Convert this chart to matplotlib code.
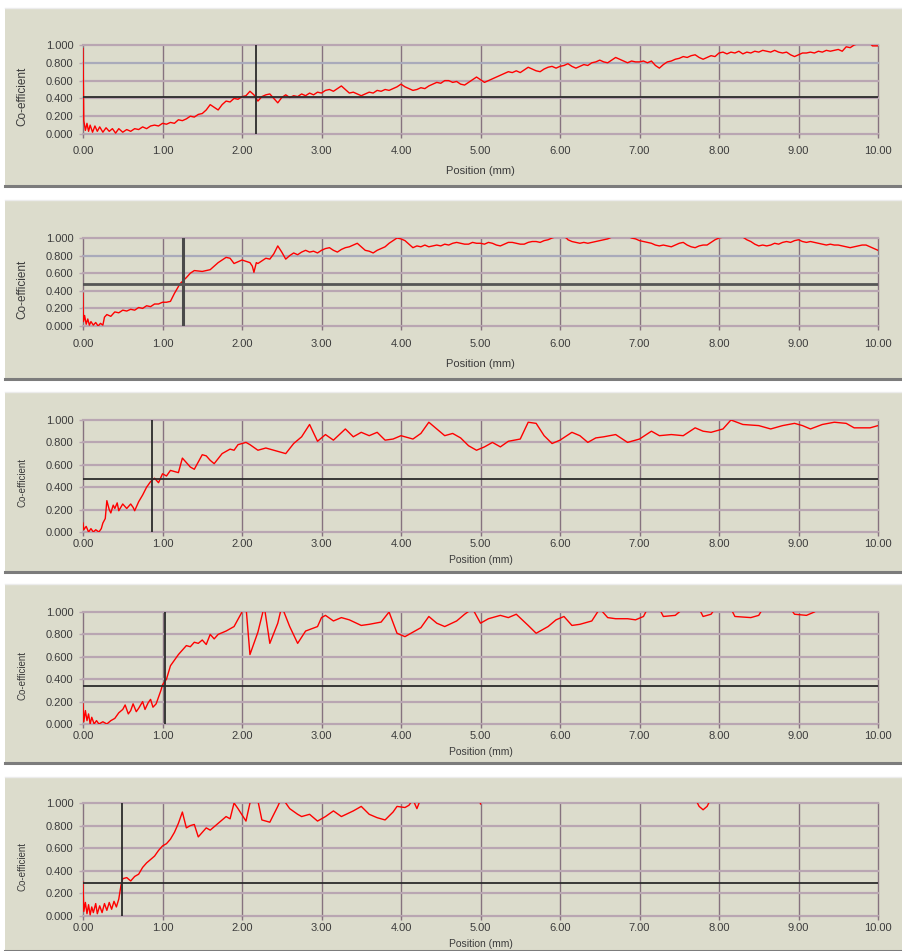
import matplotlib.pyplot as plt
from matplotlib.patches import Rectangle
from matplotlib.lines import Line2D

plt.rcParams['font.family'] = ['Liberation Sans', 'DejaVu Sans']

# friction traces as (position mm, coefficient) points, one list per test run
trace_1 = [
    (0.0, 0.96), (0.01, 0.15), (0.03, 0.04), (0.05, 0.12), (0.07, 0.03), (0.09, 0.10), (0.12, 0.02),
    (0.15, 0.09), (0.18, 0.03), (0.21, 0.08), (0.25, 0.02), (0.29, 0.07), (0.33, 0.03), (0.37, 0.06),
    (0.41, 0.01), (0.45, 0.06), (0.5, 0.02), (0.55, 0.05), (0.6, 0.03), (0.65, 0.06), (0.7, 0.05),
    (0.75, 0.08), (0.8, 0.06), (0.85, 0.09), (0.9, 0.10), (0.95, 0.09), (1.0, 0.12), (1.05, 0.11),
    (1.1, 0.13), (1.15, 0.12), (1.2, 0.16), (1.25, 0.15), (1.3, 0.17), (1.35, 0.20), (1.4, 0.19),
    (1.45, 0.22), (1.5, 0.23), (1.55, 0.27), (1.6, 0.33), (1.65, 0.30), (1.7, 0.27), (1.75, 0.33),
    (1.8, 0.37), (1.85, 0.36), (1.9, 0.40), (1.95, 0.39), (2.0, 0.42), (2.05, 0.43), (2.1, 0.48),
    (2.15, 0.44), (2.2, 0.37), (2.25, 0.42), (2.3, 0.44), (2.35, 0.45), (2.4, 0.40), (2.45, 0.35),
    (2.5, 0.41), (2.55, 0.44), (2.6, 0.41), (2.65, 0.43), (2.7, 0.42), (2.75, 0.45), (2.8, 0.43),
    (2.85, 0.46), (2.9, 0.44), (2.95, 0.47), (3.0, 0.46), (3.05, 0.49), (3.1, 0.50), (3.15, 0.48),
    (3.2, 0.51), (3.25, 0.54), (3.3, 0.50), (3.35, 0.46), (3.4, 0.47), (3.45, 0.45), (3.5, 0.43),
    (3.55, 0.45), (3.6, 0.47), (3.65, 0.46), (3.7, 0.49), (3.75, 0.48), (3.8, 0.50), (3.85, 0.49),
    (3.9, 0.51), (3.95, 0.53), (4.0, 0.56), (4.05, 0.53), (4.1, 0.51), (4.15, 0.49), (4.2, 0.50),
    (4.25, 0.52), (4.3, 0.51), (4.35, 0.54), (4.4, 0.56), (4.45, 0.58), (4.5, 0.57), (4.55, 0.60),
    (4.6, 0.60), (4.65, 0.58), (4.7, 0.59), (4.75, 0.56), (4.8, 0.55), (4.85, 0.58), (4.9, 0.61),
    (4.95, 0.64), (5.0, 0.61), (5.05, 0.58), (5.1, 0.60), (5.15, 0.62), (5.2, 0.64), (5.25, 0.66),
    (5.3, 0.68), (5.35, 0.70), (5.4, 0.69), (5.45, 0.71), (5.5, 0.69), (5.55, 0.72), (5.6, 0.75),
    (5.65, 0.73), (5.7, 0.71), (5.75, 0.70), (5.8, 0.73), (5.85, 0.75), (5.9, 0.76), (5.95, 0.74),
    (6.0, 0.76), (6.05, 0.77), (6.1, 0.79), (6.15, 0.76), (6.2, 0.74), (6.25, 0.76), (6.3, 0.78),
    (6.35, 0.77), (6.4, 0.80), (6.45, 0.81), (6.5, 0.83), (6.55, 0.81), (6.6, 0.80), (6.65, 0.83),
    (6.7, 0.86), (6.75, 0.84), (6.8, 0.82), (6.85, 0.80), (6.9, 0.82), (6.95, 0.81), (7.0, 0.81),
    (7.05, 0.82), (7.1, 0.80), (7.15, 0.82), (7.2, 0.77), (7.25, 0.74), (7.3, 0.78), (7.35, 0.81),
    (7.4, 0.82), (7.45, 0.84), (7.5, 0.85), (7.55, 0.87), (7.6, 0.86), (7.65, 0.88), (7.7, 0.89),
    (7.75, 0.86), (7.8, 0.84), (7.85, 0.86), (7.9, 0.88), (7.95, 0.87), (8.0, 0.91), (8.05, 0.92),
    (8.1, 0.90), (8.15, 0.92), (8.2, 0.91), (8.25, 0.93), (8.3, 0.90), (8.35, 0.92), (8.4, 0.91),
    (8.45, 0.93), (8.5, 0.92), (8.55, 0.94), (8.6, 0.93), (8.65, 0.92), (8.7, 0.94), (8.75, 0.92),
    (8.8, 0.91), (8.85, 0.92), (8.9, 0.89), (8.95, 0.87), (9.0, 0.89), (9.05, 0.91), (9.1, 0.91),
    (9.15, 0.92), (9.2, 0.91), (9.25, 0.93), (9.3, 0.92), (9.35, 0.94), (9.4, 0.93), (9.45, 0.94),
    (9.5, 0.95), (9.55, 0.93), (9.6, 0.98), (9.65, 0.97), (9.7, 1.0), (9.8, 1.03), (9.9, 1.02),
    (9.93, 0.99), (10.0, 0.99),
]

trace_2 = [
    (0.0, 0.37), (0.005, 0.05), (0.02, 0.12), (0.04, 0.02), (0.06, 0.08), (0.08, 0.01), (0.1, 0.05),
    (0.13, 0.01), (0.16, 0.04), (0.19, 0.0), (0.22, 0.03), (0.25, 0.01), (0.27, 0.10), (0.3, 0.13),
    (0.35, 0.11), (0.4, 0.16), (0.45, 0.15), (0.5, 0.18), (0.55, 0.17), (0.6, 0.19), (0.65, 0.18),
    (0.7, 0.21), (0.75, 0.20), (0.8, 0.23), (0.85, 0.22), (0.9, 0.25), (0.95, 0.25), (1.0, 0.27),
    (1.05, 0.27), (1.1, 0.28), (1.15, 0.37), (1.22, 0.48), (1.3, 0.55), (1.35, 0.60), (1.4, 0.63),
    (1.5, 0.62), (1.6, 0.64), (1.65, 0.68), (1.7, 0.72), (1.8, 0.78), (1.85, 0.77), (1.9, 0.71),
    (2.0, 0.75), (2.1, 0.72), (2.13, 0.68), (2.15, 0.61), (2.18, 0.72), (2.2, 0.71), (2.25, 0.74),
    (2.3, 0.77), (2.35, 0.76), (2.4, 0.82), (2.45, 0.91), (2.5, 0.84), (2.55, 0.76), (2.6, 0.80),
    (2.65, 0.83), (2.7, 0.81), (2.75, 0.84), (2.8, 0.86), (2.85, 0.84), (2.9, 0.85), (2.95, 0.83),
    (3.0, 0.86), (3.05, 0.88), (3.1, 0.89), (3.15, 0.86), (3.2, 0.84), (3.25, 0.87), (3.3, 0.89),
    (3.35, 0.90), (3.4, 0.92), (3.45, 0.94), (3.5, 0.90), (3.55, 0.86), (3.6, 0.85), (3.65, 0.83),
    (3.7, 0.86), (3.75, 0.88), (3.8, 0.90), (3.85, 0.94), (3.9, 0.97), (3.95, 1.0), (4.0, 0.99),
    (4.05, 0.97), (4.1, 0.93), (4.15, 0.89), (4.2, 0.91), (4.25, 0.90), (4.3, 0.92), (4.35, 0.90),
    (4.4, 0.91), (4.45, 0.92), (4.5, 0.91), (4.55, 0.93), (4.6, 0.92), (4.65, 0.94), (4.7, 0.95),
    (4.75, 0.94), (4.8, 0.93), (4.85, 0.93), (4.9, 0.95), (4.95, 0.94), (5.0, 0.94), (5.05, 0.93),
    (5.1, 0.95), (5.15, 0.94), (5.2, 0.92), (5.25, 0.91), (5.3, 0.93), (5.35, 0.95), (5.4, 0.95),
    (5.45, 0.94), (5.5, 0.93), (5.55, 0.93), (5.6, 0.95), (5.65, 0.96), (5.7, 0.96), (5.75, 0.95),
    (5.8, 0.97), (5.85, 0.98), (5.9, 1.0), (6.0, 1.03), (6.08, 1.0), (6.1, 0.98), (6.15, 0.96),
    (6.2, 0.95), (6.25, 0.94), (6.3, 0.95), (6.35, 0.94), (6.4, 0.95), (6.45, 0.96), (6.5, 0.97),
    (6.55, 0.98), (6.6, 0.99), (6.65, 1.01), (6.7, 1.03), (6.85, 1.02), (6.9, 1.0), (6.95, 0.99),
    (7.0, 0.97), (7.05, 0.96), (7.1, 0.95), (7.15, 0.94), (7.2, 0.92), (7.25, 0.91), (7.3, 0.92),
    (7.35, 0.91), (7.4, 0.90), (7.45, 0.92), (7.5, 0.94), (7.55, 0.95), (7.6, 0.92), (7.65, 0.90),
    (7.7, 0.89), (7.75, 0.91), (7.8, 0.92), (7.85, 0.92), (7.9, 0.95), (7.95, 0.98), (8.0, 1.0),
    (8.15, 1.03), (8.3, 1.01), (8.35, 0.98), (8.4, 0.96), (8.45, 0.93), (8.5, 0.91), (8.55, 0.92),
    (8.6, 0.91), (8.65, 0.92), (8.7, 0.94), (8.75, 0.93), (8.8, 0.95), (8.85, 0.96), (8.9, 0.95),
    (8.95, 0.97), (9.0, 0.98), (9.05, 0.96), (9.1, 0.95), (9.15, 0.96), (9.2, 0.95), (9.25, 0.94),
    (9.3, 0.93), (9.35, 0.92), (9.4, 0.93), (9.45, 0.92), (9.5, 0.92), (9.55, 0.91), (9.6, 0.90),
    (9.65, 0.89), (9.7, 0.90), (9.75, 0.91), (9.8, 0.92), (9.85, 0.92), (9.9, 0.90), (9.95, 0.88),
    (10.0, 0.86),
]

trace_3 = [
    (0.0, 0.08), (0.01, 0.02), (0.04, 0.05), (0.07, 0.0), (0.1, 0.03), (0.13, 0.0), (0.16, 0.02),
    (0.2, 0.0), (0.23, 0.03), (0.25, 0.08), (0.28, 0.12), (0.3, 0.28), (0.33, 0.20), (0.35, 0.17),
    (0.38, 0.24), (0.4, 0.21), (0.43, 0.26), (0.45, 0.19), (0.5, 0.25), (0.55, 0.21), (0.6, 0.25),
    (0.63, 0.22), (0.65, 0.19), (0.7, 0.27), (0.75, 0.33), (0.8, 0.40), (0.85, 0.45), (0.9, 0.48),
    (0.95, 0.44), (1.0, 0.52), (1.05, 0.50), (1.1, 0.55), (1.2, 0.53), (1.25, 0.66), (1.35, 0.58),
    (1.4, 0.56), (1.5, 0.69), (1.55, 0.68), (1.6, 0.64), (1.65, 0.61), (1.75, 0.70), (1.8, 0.72),
    (1.85, 0.74), (1.9, 0.73), (1.95, 0.78), (2.05, 0.80), (2.1, 0.78), (2.2, 0.73), (2.3, 0.75),
    (2.4, 0.73), (2.55, 0.70), (2.65, 0.79), (2.75, 0.85), (2.85, 0.96), (2.95, 0.81), (3.05, 0.87),
    (3.15, 0.82), (3.3, 0.92), (3.4, 0.85), (3.5, 0.89), (3.6, 0.86), (3.7, 0.89), (3.8, 0.82),
    (3.9, 0.83), (4.0, 0.86), (4.15, 0.83), (4.25, 0.88), (4.35, 0.98), (4.45, 0.92), (4.55, 0.86),
    (4.65, 0.88), (4.75, 0.84), (4.85, 0.77), (4.95, 0.73), (5.05, 0.76), (5.15, 0.80), (5.25, 0.76),
    (5.35, 0.81), (5.5, 0.83), (5.6, 0.98), (5.7, 0.97), (5.8, 0.86), (5.9, 0.79), (6.0, 0.82),
    (6.15, 0.89), (6.25, 0.86), (6.35, 0.80), (6.45, 0.84), (6.55, 0.85), (6.7, 0.87), (6.85, 0.80),
    (7.0, 0.83), (7.15, 0.90), (7.25, 0.86), (7.4, 0.87), (7.55, 0.86), (7.7, 0.93), (7.8, 0.90),
    (7.9, 0.89), (8.05, 0.92), (8.15, 1.0), (8.3, 0.96), (8.5, 0.95), (8.65, 0.92), (8.8, 0.95),
    (8.95, 0.97), (9.05, 0.95), (9.15, 0.92), (9.3, 0.96), (9.45, 0.98), (9.6, 0.97), (9.7, 0.93),
    (9.9, 0.93), (10.0, 0.95),
]

trace_4 = [
    (0.0, 0.18), (0.01, 0.02), (0.03, 0.12), (0.05, 0.03), (0.07, 0.09), (0.09, 0.0), (0.11, 0.06),
    (0.14, 0.0), (0.17, 0.03), (0.2, 0.0), (0.25, 0.02), (0.3, 0.0), (0.35, 0.03), (0.4, 0.05),
    (0.45, 0.10), (0.5, 0.13), (0.53, 0.17), (0.57, 0.09), (0.6, 0.12), (0.63, 0.18), (0.67, 0.11),
    (0.7, 0.14), (0.75, 0.20), (0.78, 0.13), (0.82, 0.19), (0.85, 0.22), (0.88, 0.15), (0.92, 0.18),
    (0.95, 0.24), (0.98, 0.30), (1.0, 0.35), (1.05, 0.40), (1.1, 0.52), (1.2, 0.62), (1.3, 0.70),
    (1.35, 0.69), (1.4, 0.73), (1.45, 0.72), (1.5, 0.75), (1.55, 0.71), (1.6, 0.80), (1.65, 0.76),
    (1.7, 0.80), (1.8, 0.83), (1.9, 0.87), (2.0, 1.0), (2.05, 1.05), (2.1, 0.62), (2.2, 0.82),
    (2.28, 1.05), (2.35, 0.72), (2.45, 0.90), (2.5, 1.05), (2.6, 0.87), (2.7, 0.72), (2.8, 0.83),
    (2.95, 0.87), (3.0, 0.95), (3.05, 0.97), (3.15, 0.92), (3.25, 0.95), (3.35, 0.93), (3.5, 0.88),
    (3.6, 0.89), (3.75, 0.91), (3.85, 1.0), (3.95, 0.81), (4.05, 0.78), (4.15, 0.82), (4.25, 0.86),
    (4.35, 0.96), (4.45, 0.90), (4.55, 0.87), (4.7, 0.92), (4.8, 0.98), (4.9, 1.03), (5.0, 0.90),
    (5.1, 0.94), (5.25, 0.97), (5.35, 0.95), (5.45, 0.98), (5.6, 0.88), (5.7, 0.81), (5.85, 0.87),
    (5.95, 0.93), (6.05, 0.96), (6.15, 0.88), (6.25, 0.89), (6.4, 0.92), (6.5, 1.03), (6.6, 0.95),
    (6.7, 0.94), (6.85, 0.94), (6.95, 0.93), (7.05, 0.96), (7.1, 1.03), (7.25, 1.03), (7.3, 0.96),
    (7.45, 0.97), (7.55, 1.03), (7.75, 1.03), (7.8, 0.96), (7.9, 0.98), (7.95, 1.03), (8.15, 1.03),
    (8.2, 0.96), (8.4, 0.95), (8.5, 0.97), (8.55, 1.03), (8.9, 1.03), (8.95, 0.98), (9.1, 0.97),
    (9.2, 1.0), (9.3, 1.05), (10.0, 1.05),
]

trace_5 = [
    (0.0, 0.30), (0.01, 0.04), (0.03, 0.12), (0.05, 0.02), (0.07, 0.10), (0.09, 0.01), (0.11, 0.08),
    (0.13, 0.03), (0.16, 0.11), (0.18, 0.02), (0.21, 0.09), (0.24, 0.03), (0.27, 0.11), (0.3, 0.05),
    (0.33, 0.12), (0.36, 0.06), (0.39, 0.13), (0.42, 0.08), (0.45, 0.15), (0.48, 0.28), (0.5, 0.33),
    (0.55, 0.34), (0.6, 0.31), (0.65, 0.35), (0.7, 0.37), (0.75, 0.43), (0.8, 0.47), (0.85, 0.50),
    (0.9, 0.53), (0.95, 0.58), (1.0, 0.62), (1.05, 0.64), (1.1, 0.68), (1.15, 0.74), (1.2, 0.82),
    (1.25, 0.92), (1.3, 0.78), (1.35, 0.80), (1.4, 0.81), (1.45, 0.70), (1.55, 0.78), (1.6, 0.76),
    (1.7, 0.82), (1.8, 0.88), (1.85, 0.86), (1.9, 1.0), (1.95, 0.95), (2.05, 0.84), (2.1, 1.0),
    (2.15, 1.05), (2.2, 1.02), (2.25, 0.85), (2.35, 0.83), (2.45, 0.97), (2.5, 1.05), (2.6, 0.95),
    (2.7, 0.90), (2.75, 0.88), (2.85, 0.90), (2.95, 0.84), (3.05, 0.88), (3.15, 0.93), (3.25, 0.88),
    (3.4, 0.93), (3.5, 0.97), (3.6, 0.90), (3.7, 0.87), (3.8, 0.85), (3.9, 0.92), (3.95, 0.97),
    (4.05, 0.96), (4.1, 0.98), (4.15, 1.03), (4.2, 0.95), (4.25, 1.04), (4.99, 1.04), (5.0, 0.99),
    (5.01, 1.04), (7.7, 1.04), (7.75, 0.97), (7.8, 0.94), (7.85, 0.97), (7.9, 1.04), (10.0, 1.04),
]

# cursor readout for each run
cursor_pos = [2.18, 1.26, 0.87, 1.03, 0.49]
cursor_coef = [0.42, 0.48, 0.475, 0.335, 0.29]

x_ticks = [0, 1, 2, 3, 4, 5, 6, 7, 8, 9, 10]
y_ticks = [0.0, 0.2, 0.4, 0.6, 0.8, 1.0]

runs = [trace_1, trace_2, trace_3, trace_4, trace_5]

W, H = 903, 951
BEIGE = '#dcdccc'
VGRID = '#86727f'
HGRID = '#b9a6b2'
TXT = '#3c3c3c'

# pixel layout of each panel: frame top/bottom, plot top/bottom
frame_px = [(8, 186), (200, 379), (392, 572), (584, 763), (777, 951)]
plot_px = [(45, 134), (238, 326), (420, 532), (612, 724), (803, 916)]
tick_pad = [5.4, 6.5, 2.0, 2.0, 2.0]
xlab_off = [37, 38, 28, 28, 28]
ylab_size = [8.5, 8.5, 7, 7, 7]
xlab_size = [8, 8, 7.5, 7.5, 7.5]

fig = plt.figure(figsize=(W / 100, H / 100), dpi=100)
fig.patch.set_facecolor('white')

for i, trace in enumerate(runs):
    pos = [p for p, c in trace]
    coef = [c for p, c in trace]

    ftop, fbot = frame_px[i]
    fig.add_artist(Rectangle((5 / W, 1 - fbot / H), (W - 5) / W, (fbot - ftop) / H,
                             transform=fig.transFigure, facecolor=BEIGE, edgecolor='none', zorder=0))
    fig.add_artist(Line2D([5 / W, 1], [1 - fbot / H] * 2, transform=fig.transFigure,
                          color='#7c7c7c', lw=2.2))
    fig.add_artist(Line2D([5 / W, 1], [1 - ftop / H] * 2, transform=fig.transFigure,
                          color='#ececec', lw=1.0))

    ptop, pbot = plot_px[i]
    h = pbot - ptop
    ax = fig.add_axes([83 / W, 1 - pbot / H, 795 / W, h / H])
    ax.set_facecolor('none')
    for s in ax.spines.values():
        s.set_visible(False)
    ax.set_xlim(0, 10)
    ax.set_ylim(0, 1)

    for v in x_ticks:
        ax.axvline(v, color=VGRID, lw=1.0, zorder=1, clip_on=False)
    for v in y_ticks:
        c = '#a9aabb' if (v == 0.8 and i < 2) else HGRID
        ax.axhline(v, color=c, lw=1.6, zorder=1, clip_on=False)

    ax.plot(pos, coef, color='#ff0000', lw=1.0, zorder=3)

    if i == 1:
        ax.axvline(cursor_pos[i], color='#4a4a4a', lw=2.2, zorder=4)
        ax.axhline(cursor_coef[i], color='#555555', lw=2.0, zorder=4)
    else:
        ax.axvline(cursor_pos[i], color='#2b2b2b', lw=1.3, zorder=4)
        ax.axhline(cursor_coef[i], color='#2b2b2b', lw=1.3, zorder=4)

    ax.set_xticks(x_ticks)
    ax.set_xticklabels([f'{v:.2f}' for v in x_ticks])
    ax.set_yticks(y_ticks)
    ax.set_yticklabels([f'{v:.3f}' for v in y_ticks])
    ax.tick_params(axis='x', length=3, width=1, color=VGRID, pad=tick_pad[i],
                   labelsize=8, labelcolor=TXT)
    ax.tick_params(axis='y', length=3, width=1, color=HGRID, pad=4,
                   labelsize=8, labelcolor=TXT)

    ax.set_xlabel('Position (mm)', fontsize=xlab_size[i], color=TXT)
    ax.xaxis.label.set_va('center')
    ax.xaxis.set_label_coords(0.5, -xlab_off[i] / h)
    ax.set_ylabel('Co-efficient', fontsize=ylab_size[i], color=TXT)
    ax.yaxis.label.set_va('center')
    ax.yaxis.set_label_coords((22 - 83) / 795, 0.5 - 7 / h)

fig.savefig('out.png', dpi=100)
